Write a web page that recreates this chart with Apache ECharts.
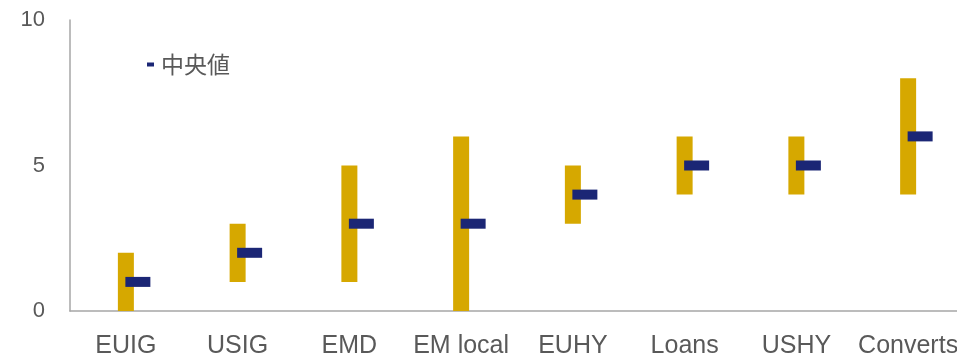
<!DOCTYPE html>
<html>
<head>
<meta charset="utf-8">
<script src="https://cdn.jsdelivr.net/npm/echarts@6/dist/echarts.min.js"></script>
<style>
  html, body { margin: 0; padding: 0; background: #ffffff; }
  #chart { width: 957px; height: 353px; }
</style>
</head>
<body>
<div id="chart"></div>
<script>
// Asset classes along the x axis
const categories = ['EUIG', 'USIG', 'EMD', 'EM local', 'EUHY', 'Loans', 'USHY', 'Converts'];
// Range of each class: low and high ends
const lowValues  = [0, 1, 1, 0, 3, 4, 4, 4];
const highValues = [2, 3, 5, 6, 5, 6, 6, 8];
// Median of each class
const medianValues = [1, 2, 3, 3, 4, 5, 5, 6];
// Y axis ticks
const yTicks = [0, 5, 10];
const medianName = '中央値';

const rangeSpan = highValues.map((h, i) => h - lowValues[i]);

const chart = echarts.init(document.getElementById('chart'), null, { renderer: 'canvas' });

const textColor = '#595959';
const axisColor = '#A6A6A6';

chart.setOption({
  animation: false,
  backgroundColor: '#ffffff',
  grid: {
    left: 70, top: 20, width: 894, height: 291,
    containLabel: false, outerBoundsMode: 'none'
  },
  legend: {
    data: [{ name: medianName, icon: 'rect' }],
    left: 147, top: 53, padding: 0,
    itemWidth: 7, itemHeight: 4, itemGap: 4,
    textStyle: { color: textColor, fontSize: 23, fontFamily: 'Noto Sans CJK JP', padding: [0, 0, 0, 2] },
    selectedMode: false
  },
  xAxis: {
    type: 'category',
    data: categories,
    axisLine: { show: true, lineStyle: { color: axisColor, width: 1.5 } },
    axisTick: { show: false },
    axisLabel: { color: textColor, fontSize: 25, fontFamily: 'Liberation Sans', margin: 23, interval: 0 },
    splitLine: { show: false }
  },
  yAxis: {
    type: 'value',
    min: yTicks[0], max: yTicks[yTicks.length - 1], interval: yTicks[1] - yTicks[0],
    axisLine: { show: true, lineStyle: { color: axisColor, width: 1.5 } },
    axisTick: { show: false },
    axisLabel: { color: textColor, fontSize: 22, fontFamily: 'Liberation Sans', margin: 25 },
    splitLine: { show: false }
  },
  series: [
    {
      name: 'base', type: 'bar', stack: 'range', barWidth: 16,
      data: lowValues, itemStyle: { color: 'transparent' }, silent: true
    },
    {
      name: 'range', type: 'bar', stack: 'range', barWidth: 16,
      data: rangeSpan, itemStyle: { color: '#D6A800' }
    },
    {
      name: medianName, type: 'scatter',
      data: medianValues,
      symbol: 'rect', symbolSize: [25, 10], symbolOffset: [12, 0],
      itemStyle: { color: '#1B2675', opacity: 1 },
      z: 5
    }
  ]
});
</script>
</body>
</html>
